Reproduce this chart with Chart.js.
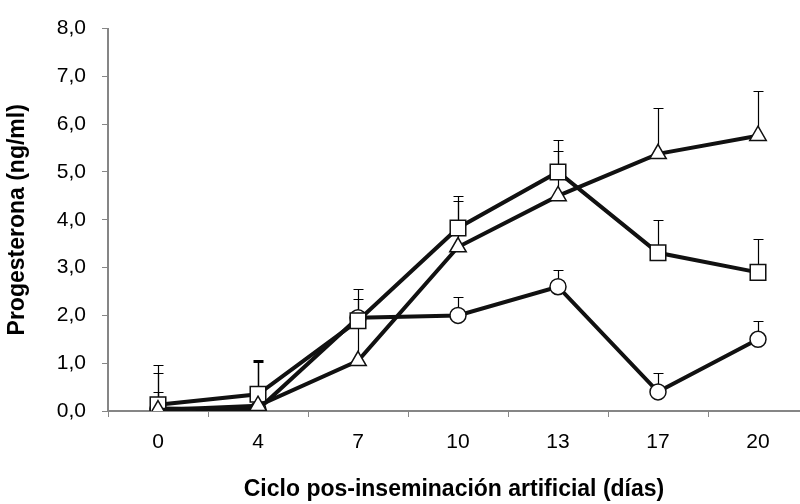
<!DOCTYPE html>
<html>
<head>
<meta charset="utf-8">
<script src="https://cdn.jsdelivr.net/npm/chart.js@4"></script>
<style>
  html, body { margin: 0; padding: 0; background: #fff; overflow: hidden; }
</style>
</head>
<body>
<canvas id="chart" width="800" height="504"></canvas>
<script>
// Días del ciclo pos-inseminación
const dias = ['0', '4', '7', '10', '13', '17', '20'];

// Medias de progesterona (ng/ml) y desvío (barra superior)
const circuloMedia = [0.05, 0.03, 1.95, 2.00, 2.60, 0.40, 1.50];
const circuloDesv  = [0.75, 1.02, 0.60, 0.38, 0.36, 0.39, 0.39];

const cuadradoMedia = [0.13, 0.35, 1.89, 3.83, 5.00, 3.31, 2.90];
const cuadradoDesv  = [0.84, 0.72, 0.46, 0.66, 0.66, 0.69, 0.70];

const trianguloMedia = [0.02, 0.11, 1.05, 3.43, 4.50, 5.38, 5.76];
const trianguloDesv  = [0.38, 0.92, 0.85, 0.96, 0.94, 0.96, 0.94];

const yTicks = [0, 1, 2, 3, 4, 5, 6, 7, 8];

const FONT = 'Liberation Sans, Arial, sans-serif';
const AXIS_GRAY = '#868686';

// eje x: una categoría por unidad, marcas entre categorías
const xTicks = [];
for (let i = 0; i < dias.length; i++) xTicks.push(i - 0.5, i);

// barras de error (solo hacia arriba, con tope)
const errorBars = {
  id: 'errorBars',
  beforeDatasetsDraw(chart) {
    const { ctx, scales: { x, y } } = chart;
    ctx.save();
    ctx.strokeStyle = '#000';
    ctx.lineWidth = 1.2;
    chart.data.datasets.forEach(ds => {
      ds.data.forEach((p, i) => {
        const px = Math.round(x.getPixelForValue(p.x)) + 0.5;
        const y0 = y.getPixelForValue(p.y);
        const y1 = Math.round(y.getPixelForValue(p.y + ds.errores[i])) + 0.5;
        ctx.beginPath();
        ctx.moveTo(px, y0);
        ctx.lineTo(px, y1);
        ctx.moveTo(px - 5, y1);
        ctx.lineTo(px + 5, y1);
        ctx.stroke();
      });
    });
    ctx.restore();
  }
};

function serie(medias, errores, estilo, radio, orden) {
  return {
    data: medias.map((v, i) => ({ x: i, y: v })),
    errores,
    order: orden,
    borderColor: '#111',
    borderWidth: 4,
    pointStyle: estilo,
    pointRadius: radio,
    pointHoverRadius: radio,
    pointBackgroundColor: '#fff',
    pointBorderColor: '#111',
    pointBorderWidth: 1.5,
    tension: 0,
    fill: false,
  };
}

new Chart(document.getElementById('chart'), {
  type: 'line',
  data: {
    datasets: [
      serie(circuloMedia, circuloDesv, 'circle', 8, 3),
      serie(cuadradoMedia, cuadradoDesv, 'rect', 11, 2),
      serie(trianguloMedia, trianguloDesv, 'triangle', 9.5, 1),
    ]
  },
  options: {
    responsive: false,
    animation: false,
    layout: { autoPadding: false, padding: { left: 0, top: 17, right: 0, bottom: 0 } },
    plugins: {
      legend: { display: false },
      tooltip: { enabled: false },
    },
    scales: {
      x: {
        type: 'linear',
        min: -0.5,
        max: 6.42,
        afterBuildTicks: s => { s.ticks = xTicks.map(v => ({ value: v })); },
        grid: {
          drawOnChartArea: false,
          drawTicks: true,
          tickLength: 6,
          lineWidth: 1,
          color: c => Number.isInteger(c.tick.value) ? 'rgba(0,0,0,0)' : AXIS_GRAY,
        },
        border: { color: AXIS_GRAY, width: 2 },
        ticks: {
          color: '#000',
          font: { family: FONT, size: 21 },
          padding: 13,
          maxRotation: 0,
          autoSkip: false,
          callback: v => Number.isInteger(v) ? dias[v] : '',
        },
        title: {
          display: true,
          text: 'Ciclo pos-inseminación artificial (días)',
          color: '#000',
          font: { family: FONT, size: 23, weight: 'bold' },
          padding: { top: 0, bottom: 1 },
        },
        afterFit: s => { s.height = 93; },
      },
      y: {
        min: 0,
        max: 8,
        afterBuildTicks: s => { s.ticks = yTicks.map(v => ({ value: v })); },
        grid: { drawOnChartArea: false, drawTicks: true, tickLength: 6, color: AXIS_GRAY, lineWidth: 1 },
        border: { color: AXIS_GRAY, width: 2 },
        ticks: {
          color: '#000',
          font: { family: FONT, size: 21 },
          padding: 16,
          callback: v => v.toFixed(1).replace('.', ','),
        },
        title: {
          display: true,
          text: 'Progesterona (ng/ml)',
          color: '#000',
          font: { family: FONT, size: 23, weight: 'bold' },
          padding: { top: 4, bottom: 0 },
        },
        afterFit: s => { s.width = 108; },
      },
    },
  },
  plugins: [errorBars],
});
</script>
</body>
</html>
